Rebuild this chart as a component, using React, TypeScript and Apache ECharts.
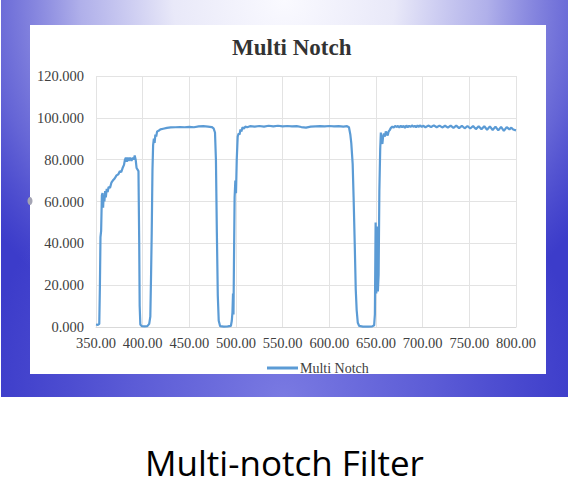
import React, { useEffect, useRef } from "react";
import * as echarts from "echarts";

const chartTitle = "Multi Notch";
const seriesName = "Multi Notch";
const caption = "Multi-notch Filter";

const xTicks = { min: 350, max: 800, step: 50 };
const yTicks = { min: 0, max: 120, step: 20 };

// wavelength (nm)
const wavelengths = [
  350, 352, 353.5, 354.2, 354.8, 355.5, 356.3, 357, 357.6, 358.2, 359, 359.8, 360.5, 361.5, 362.5, 363.5,
  365, 366.5, 368, 370, 372, 374, 375.5, 377, 378.5, 380, 381, 382, 383, 384, 385, 386.5, 388, 389.5,
  390.5, 391.5, 392.5, 393.5, 395.5, 396.3, 396.8, 397.5, 399, 402, 405, 407, 408.2, 409, 409.7, 410.5,
  411.2, 412, 412.8, 413.6, 414.5, 415.5, 417, 419, 422, 426, 430, 435, 440, 445, 450, 455, 460, 465,
  470, 474, 476, 477.5, 478.5, 479.5, 480.5, 481.5, 483, 487, 491, 494.5, 495.5, 496.2, 496.8, 497.3,
  497.8, 498.5, 499.3, 500, 500.8, 501.8, 502.8, 503.8, 504.8, 505.8, 507, 508.5, 510, 512, 515, 520,
  525, 530, 535, 540, 545, 550, 555, 560, 565, 570, 575, 580, 585, 590, 595, 600, 605, 610, 615, 619,
  621, 622.5, 623.5, 625, 626, 627.2, 628.3, 629.3, 630.5, 632, 636, 642, 646, 648, 648.8, 649.6, 650.3,
  651.2, 652, 652.8, 653.6, 654.5, 655.2, 656, 656.8, 657.6, 658.5, 659.5, 660.5, 661.5, 662.5, 663.5,
  664.5, 666, 667.5, 669, 670.5, 672, 673.5, 675, 676.5, 678, 679.5, 681, 682.5, 684, 685.5, 687, 688.5,
  690, 691.5, 693, 694.5, 696, 697.5, 699, 700.5, 703, 706, 709, 712, 715, 718, 721, 724, 727, 730, 733,
  736, 739, 742, 745, 748, 751, 754, 757, 760, 763, 766, 769, 772, 775, 778, 781, 784, 787, 790, 793,
  795, 797, 800,
];

// transmission (%)
const transmission = [
  1.2, 1.0, 1.5, 20, 43, 46, 63, 64, 57, 63, 60, 65, 62, 66, 64.5, 67,
  66.5, 69, 70, 71, 72.5, 73, 74.5, 74, 76, 77.5, 80, 81, 79, 81, 79.5, 81, 79.5, 81,
  80, 82, 80, 76, 74.5, 40, 10, 1.2, 0.4, 0.3, 0.4, 1.5, 5, 25, 45, 75,
  87, 90, 88, 92, 91, 93.5, 93.8, 94.5, 94.8, 95.2, 95.4, 95.5, 95.6, 95.5, 95.7, 95.5, 95.9, 96,
  95.8, 95.6, 95, 93, 80, 45, 15, 3, 0.4, 0.2, 0.3, 0.5, 3, 7, 16, 6,
  30, 62, 70, 64, 80, 91, 92.5, 92, 94.5, 93.5, 95.5, 94.8, 95.8, 95.5, 96, 95.8,
  96.1, 95.8, 96.2, 95.9, 96.2, 95.9, 96.1, 95.9, 96, 95.6, 95.3, 95.8, 95.9, 96, 95.9, 96.1, 95.9, 96, 95.8, 96,
  95.5, 92, 88, 78, 62, 40, 18, 8, 2, 0.5, 0.2, 0.2, 0.3, 0.8, 6, 50, 16,
  48, 17, 25, 65, 85, 93, 89, 87.5, 91, 92.5, 91, 93.5, 92.5, 91.5, 93.5,
  94, 95.2, 95.8, 95.3, 96.2, 95.6, 96.1, 95.4, 96.2, 95.5, 96.2, 95.2, 96.3, 95.5, 96.2, 95.6, 96.4,
  95.7, 96.2, 95.5, 96.3, 95.7, 96.4, 95.6, 96.2, 95.5, 96.3, 95.6, 96.4, 95.5, 96.3, 95.4, 96.2, 95.3, 96.3, 95.2,
  96.3, 95.1, 96.2, 95, 96.1, 94.9, 96.1, 94.6, 96, 94.5, 96, 94.3, 95.9, 94.2, 95.8, 94, 95.7, 93.8, 95.6, 94.5,
  95.3, 94.4, 94,
];

const labelFont = "'Liberation Serif', 'DejaVu Serif', serif";

export default function App() {
  const ref = useRef<HTMLDivElement>(null);

  useEffect(() => {
    if (!ref.current) return;
    const chart = echarts.init(ref.current, null, { renderer: "svg" });
    const data = wavelengths.map((w, i) => [w, transmission[i]]);

    chart.setOption({
      animation: false,
      graphic: [
        {
          type: "rect",
          z: -20,
          shape: { x: 1, y: 0, width: 567, height: 397 },
          style: { fill: "#3c3cca" },
          silent: true,
        },
        {
          type: "rect",
          z: -19,
          shape: { x: 1, y: 0, width: 567, height: 397 },
          style: {
            fill: new echarts.graphic.RadialGradient(284, 400, 300, [
              { offset: 0, color: "rgba(122,122,226,1)" },
              { offset: 0.5, color: "rgba(118,118,224,0.55)" },
              { offset: 1, color: "rgba(110,110,220,0)" },
            ], true),
          },
          silent: true,
        },
        {
          type: "rect",
          z: -18,
          shape: { x: 1, y: 0, width: 567, height: 397 },
          style: {
            fill: new echarts.graphic.RadialGradient(284, 0, 370, [
              { offset: 0, color: "rgba(250,250,255,1)" },
              { offset: 0.3, color: "rgba(238,238,250,0.97)" },
              { offset: 0.55, color: "rgba(205,205,242,0.8)" },
              { offset: 0.8, color: "rgba(150,150,228,0.45)" },
              { offset: 1, color: "rgba(120,120,220,0)" },
            ], true),
          },
          silent: true,
        },
        {
          type: "rect",
          z: -17,
          shape: { x: 30, y: 25, width: 516, height: 349 },
          style: { fill: "#ffffff" },
          silent: true,
        },
        {
          type: "ellipse",
          z: -16,
          shape: { cx: 30, cy: 201, rx: 2.5, ry: 4 },
          style: { fill: "#a4a4b4" },
          silent: true,
        },
        {
          type: "text",
          x: 284.5,
          y: 462,
          style: {
            text: caption,
            fill: "#000000",
            font: "35px 'Open Sans', 'Noto Sans', sans-serif",
            align: "center",
            verticalAlign: "middle",
          },
          silent: true,
        },
      ],
      title: {
        text: chartTitle,
        left: 227,
        top: 31,
        textStyle: {
          fontFamily: labelFont,
          fontSize: 23,
          fontWeight: "bold",
          color: "#333333",
        },
      },
      legend: {
        data: [seriesName],
        left: 262,
        top: 356,
        icon: "rect",
        itemWidth: 31,
        itemHeight: 3,
        itemGap: 2,
        textStyle: {
          fontFamily: labelFont,
          fontSize: 14,
          color: "#404040",
          padding: [0, 0, 0, -3],
        },
      },
      grid: { left: 96, right: 53, top: 76, bottom: 169, containLabel: false },
      xAxis: {
        type: "value",
        min: xTicks.min,
        max: xTicks.max,
        interval: xTicks.step,
        axisLine: { show: true, lineStyle: { color: "#d9d9d9", width: 1 } },
        axisTick: { show: false },
        splitLine: { show: true, lineStyle: { color: "#e3e3e3", width: 1 } },
        axisLabel: {
          margin: 8,
          fontFamily: labelFont,
          fontSize: 14.5,
          color: "#404040",
          formatter: (v: number) => v.toFixed(2),
        },
      },
      yAxis: {
        type: "value",
        min: yTicks.min,
        max: yTicks.max,
        interval: yTicks.step,
        axisLine: { show: false },
        axisTick: { show: false },
        splitLine: { show: true, lineStyle: { color: "#e3e3e3", width: 1 } },
        axisLabel: {
          margin: 12,
          fontFamily: labelFont,
          fontSize: 14.5,
          color: "#404040",
          formatter: (v: number) => v.toFixed(3),
        },
      },
      series: [
        {
          name: seriesName,
          type: "line",
          data,
          showSymbol: false,
          symbol: "none",
          lineStyle: { color: "#5b9bd5", width: 2.2 },
          itemStyle: { color: "#5b9bd5" },
        },
      ],
    });

    return () => chart.dispose();
  }, []);

  return (
    <div
      ref={ref}
      style={{ position: "absolute", left: 0, top: 0, width: 569, height: 496, background: "#ffffff" }}
    />
  );
}
